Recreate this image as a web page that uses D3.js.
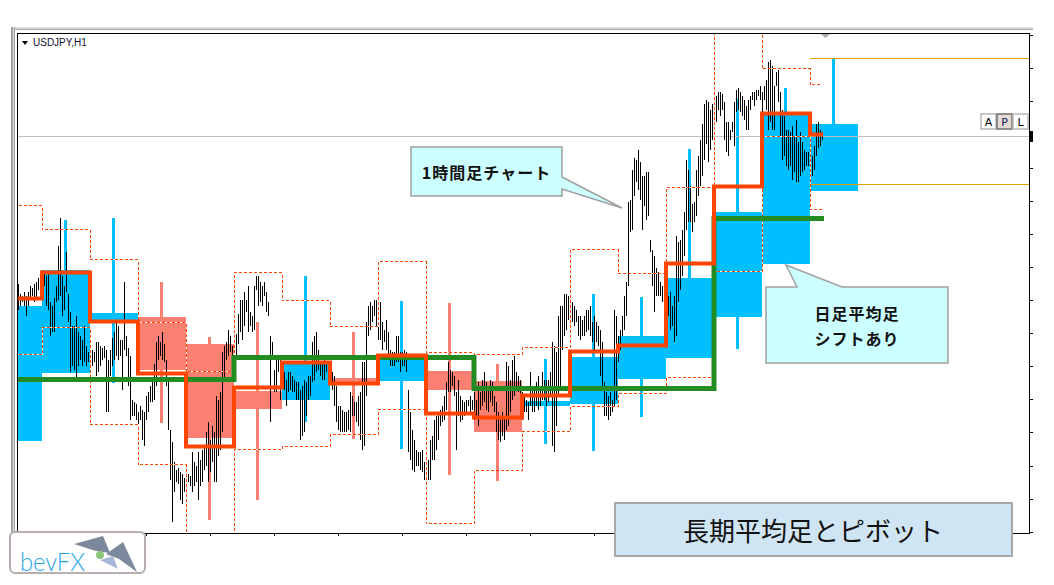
<!DOCTYPE html>
<html lang="ja">
<head>
<meta charset="utf-8">
<title>長期平均足とピボット</title>
<script src="https://d3js.org/d3.v7.min.js"></script>
<style>
  body { margin: 0; background: #fff; }
  svg { display: block; }
</style>
</head>
<body>
<svg id="chart"></svg>
<script>
// USDJPY H1 bars (high / low), first bar is hour -12, 24 bars per day
var hourHigh = [
  112.08,112.03,112.02,112.04,112.02,112.04,112.07,112.06,112.08,112.09,112.11,112.13,
  112.15,112.14,112.12,112.14,111.99,111.97,112.01,112.07,112.27,112.41,112.12,112.07,112.24,112.03,111.94,111.87,111.87,111.92,111.84,111.82,111.80,111.87,111.77,111.74,
  111.74,111.75,111.74,111.79,111.79,111.77,111.76,111.77,111.75,111.70,111.75,111.81,111.84,111.89,111.87,111.80,111.80,112.09,111.82,111.76,111.72,111.50,111.49,111.48,
  111.44,111.47,111.45,111.44,111.52,111.54,111.57,111.60,111.68,111.79,111.82,111.79,111.84,111.78,111.70,111.60,111.35,111.29,111.19,111.15,111.16,111.14,111.13,111.11,
  111.15,111.13,111.12,111.24,111.19,111.17,111.24,111.20,111.25,111.27,111.34,111.39,111.30,111.37,111.34,111.52,111.50,111.54,111.74,111.77,111.79,111.85,111.82,111.77,
  111.80,111.83,111.93,112.00,112.00,112.04,112.00,112.07,111.94,111.92,112.07,112.12,112.12,112.09,112.07,112.09,112.04,111.99,111.82,111.79,111.65,111.72,111.72,111.70,
  111.67,111.64,111.60,111.64,111.64,111.62,111.60,111.59,111.59,111.55,111.57,111.60,111.59,111.62,111.62,111.79,111.82,111.84,111.75,111.69,111.69,111.72,111.69,111.67,
  111.67,111.64,111.62,111.57,111.47,111.47,111.45,111.44,111.44,111.45,111.54,111.52,111.49,111.49,111.52,111.54,111.69,111.69,111.89,111.97,111.99,111.97,112.00,112.00,
  111.97,111.99,111.89,111.85,111.90,111.84,111.75,111.74,111.74,111.82,111.82,111.74,111.74,111.75,111.74,111.55,111.44,111.35,111.30,111.25,111.24,111.24,111.25,111.19,
  111.22,111.20,111.30,111.32,111.40,111.42,111.44,111.45,111.47,111.52,111.59,111.69,111.65,111.64,111.62,111.54,111.60,111.52,111.50,111.49,111.50,111.50,111.52,111.50,
  111.54,111.50,111.59,111.54,111.60,111.64,111.59,111.57,111.60,111.59,111.52,111.49,111.44,111.40,111.44,111.42,111.69,111.67,111.60,111.70,111.72,111.64,111.62,111.60,
  111.54,111.52,111.50,111.49,111.64,111.55,111.55,111.59,111.62,111.57,111.64,111.60,111.60,111.60,111.64,111.79,111.77,111.74,111.92,111.97,111.97,112.03,112.03,112.02,
  112.00,111.99,111.97,111.95,111.92,111.92,111.90,111.92,111.95,111.95,111.97,111.89,111.92,111.89,111.87,111.85,111.79,111.59,111.54,111.52,111.54,111.50,111.95,111.92,
  111.82,111.85,111.92,112.02,112.09,112.49,112.50,112.65,112.71,112.70,112.75,112.69,112.62,112.62,112.64,112.64,112.30,112.25,112.22,112.16,112.14,112.09,112.07,112.07,
  112.05,112.02,112.04,111.97,112.02,112.32,112.29,112.30,112.35,112.44,112.70,112.65,112.57,112.48,112.49,112.65,112.72,112.80,112.88,112.98,113.00,112.99,112.95,112.98,
  113.00,113.02,113.04,113.04,113.03,112.99,112.89,112.89,112.85,112.89,112.99,113.05,113.06,113.04,113.02,113.00,112.97,113.00,113.02,113.04,113.04,113.05,113.05,113.07,
  113.04,113.07,113.10,113.19,113.20,113.17,113.07,113.14,113.15,113.04,112.95,112.92,112.85,112.85,112.84,112.87,112.82,112.90,112.79,112.84,112.79,112.75,112.74,112.74,
  112.74,112.72,112.77,112.88,112.89,112.85,112.84
];
var hourLow = [
  111.95,111.97,111.99,111.97,111.92,111.97,112.00,112.02,111.99,112.00,112.05,112.04,
  112.02,112.07,111.97,111.95,111.82,111.84,111.84,111.99,112.00,112.02,111.92,111.95,112.04,111.89,111.64,111.67,111.65,111.59,111.67,111.70,111.67,111.69,111.67,111.69,
  111.70,111.67,111.69,111.62,111.64,111.67,111.70,111.71,111.44,111.44,111.62,111.67,111.70,111.72,111.70,111.72,111.55,111.75,111.72,111.57,111.40,111.42,111.42,111.40,
  111.37,111.40,111.30,111.27,111.40,111.44,111.49,111.49,111.50,111.57,111.70,111.72,111.70,111.69,111.57,111.35,111.10,110.89,111.04,111.09,111.08,111.00,110.98,111.04,
  111.07,111.09,111.07,111.04,111.07,111.09,111.00,111.07,111.09,111.15,111.17,111.09,111.14,111.19,111.09,111.09,111.22,111.25,111.34,111.60,111.70,111.72,111.74,111.70,
  111.65,111.70,111.78,111.84,111.80,111.87,111.94,111.84,111.87,111.84,111.85,112.05,111.97,111.99,111.97,112.02,111.94,111.92,111.39,111.72,111.54,111.54,111.64,111.50,
  111.57,111.55,111.47,111.54,111.55,111.54,111.54,111.50,111.50,111.30,111.32,111.34,111.42,111.50,111.52,111.59,111.60,111.64,111.65,111.62,111.60,111.60,111.64,111.60,
  111.60,111.55,111.47,111.39,111.35,111.34,111.34,111.34,111.34,111.35,111.34,111.42,111.42,111.39,111.37,111.30,111.25,111.27,111.52,111.82,111.85,111.89,111.92,111.87,
  111.80,111.80,111.75,111.79,111.75,111.72,111.67,111.67,111.67,111.69,111.69,111.64,111.67,111.67,111.64,111.24,111.20,111.15,111.14,111.17,111.17,111.15,111.14,111.10,
  111.12,111.10,111.10,111.20,111.20,111.25,111.30,111.37,111.39,111.40,111.45,111.54,111.54,111.57,111.52,111.25,111.42,111.39,111.40,111.42,111.44,111.47,111.44,111.45,
  111.40,111.42,111.37,111.45,111.47,111.49,111.45,111.44,111.49,111.47,111.44,111.34,111.30,111.29,111.32,111.30,111.35,111.37,111.44,111.50,111.52,111.55,111.54,111.52,
  111.40,111.44,111.44,111.40,111.47,111.44,111.44,111.47,111.45,111.47,111.50,111.50,111.47,111.49,111.52,111.27,111.24,111.37,111.52,111.57,111.75,111.82,111.85,111.90,
  111.89,111.89,111.87,111.89,111.82,111.80,111.82,111.82,111.84,111.85,111.82,111.79,111.75,111.79,111.77,111.62,111.57,111.42,111.42,111.40,111.42,111.44,111.47,111.50,
  111.69,111.75,111.82,111.85,111.92,112.07,112.34,112.35,112.52,112.59,112.55,112.50,112.35,112.47,112.40,112.42,112.24,112.07,111.94,112.02,112.02,112.02,111.99,112.02,
  111.99,111.92,111.85,111.87,111.79,111.82,111.99,112.05,112.12,112.22,112.35,112.39,112.39,112.34,112.39,112.42,112.52,112.57,112.62,112.70,112.78,112.69,112.75,112.80,
  112.92,112.89,112.95,112.92,112.95,112.80,112.74,112.72,112.80,112.84,112.77,112.94,112.95,112.94,112.92,112.90,112.85,112.85,112.95,113.00,112.97,113.00,113.02,113.00,
  112.94,113.00,112.95,112.85,112.89,112.85,112.85,113.07,112.99,112.82,112.70,112.72,112.67,112.65,112.67,112.60,112.64,112.59,112.59,112.62,112.64,112.65,112.67,112.67,
  112.67,112.62,112.65,112.72,112.76,112.77,112.80
];
var firstHour = -12;

// daily values, one per day (day -1 .. 16)
var days    = [-1, 0, 1, 2, 3, 4, 5, 6, 7, 8, 9, 10, 11, 12, 13, 14, 15, 16];
var haOpen  = [111.295, 111.635, 111.90, 111.915, 111.78, 111.545, 111.50, 111.61, 111.595, 111.645, 111.595, 111.47, 111.48, 111.605, 111.71, 111.915, 112.18, 112.545];
var haClose = [111.97, 112.15, 111.935, 111.65, 111.31, 111.455, 111.685, 111.58, 111.70, 111.55, 111.34, 111.495, 111.715, 111.82, 112.11, 112.44, 112.925, 112.88];
var haHigh  = [111.97, 112.40, 112.41, 112.09, 111.815, 111.89, 112.12, 111.84, 111.995, 111.985, 111.68, 111.705, 112.03, 112.015, 112.755, 113.005, 113.06, 113.21];
var haLow   = [111.295, 111.635, 111.585, 111.385, 110.90, 111.00, 111.39, 111.305, 111.255, 111.125, 111.095, 111.28, 111.245, 111.415, 111.71, 111.755, 112.18, 112.545];
var pivot   = [112.01, 112.14, 111.895, 111.635, 111.27, 111.565, 111.69, 111.585, 111.725, 111.435, 111.415, 111.525, 111.745, 111.775, 112.185, 112.57, 112.935, 112.83];
var upper   = [112.475, 112.355, 112.205, 111.89, 111.645, 112.14, 112.00, 111.87, 112.195, 111.74, 111.73, 111.765, 112.255, 112.135, 112.565, 113.36, 113.16, 113.08];
var lower   = [111.73, 111.865, 111.38, 111.18, 110.775, 111.255, 111.27, 111.33, 111.455, 110.885, 111.15, 111.345, 111.47, 111.535, 111.615, 112.145, 112.82, 112.455];
var longAvg = [111.605, 111.605, 111.605, 111.605, 111.605, 111.715, 111.715, 111.715, 111.715, 111.715, 111.56, 111.56, 111.56, 111.56, 111.56, 112.41, 112.41, 112.41];

var todayLevels = [113.21, 112.58];
var bid = 112.82;
var lastHour = 390.5;

var yTicks = [113.325, 113.16, 112.995, 112.825, 112.66, 112.495, 112.33, 112.165, 112.00, 111.835, 111.67, 111.505, 111.34, 111.17, 111.005, 110.84];
var xTicks = [52, 84, 116, 148, 180, 212, 244, 276, 308, 340, 372, 404, 436, 468];

var width = 1054, height = 585;
var svg = d3.select("#chart").attr("width", width).attr("height", height);

var x = d3.scaleLinear().domain([-12.5, 493.5]).range([17, 1029]);
var y = d3.scaleLinear().domain([110.84, 113.34]).range([532, 32]);

// window chrome
svg.append("rect").attr("x", 11).attr("y", 27).attr("width", 1022).attr("height", 2).attr("fill", "#dadada");
svg.append("rect").attr("x", 11).attr("y", 29).attr("width", 1022).attr("height", 1).attr("fill", "#a8a8a8");
svg.append("rect").attr("x", 11).attr("y", 27).attr("width", 4).attr("height", 506).attr("fill", "#a4a4a4");
svg.append("rect").attr("x", 13).attr("y", 27).attr("width", 1).attr("height", 506).attr("fill", "#d6d6d6");

svg.append("defs").append("clipPath").attr("id", "plot")
  .append("rect").attr("x", 18).attr("y", 34).attr("width", 1011).attr("height", 499);

var plot = svg.append("g").attr("clip-path", "url(#plot)");

var daily = days.map(function (d, i) {
  return { d: d, o: haOpen[i], c: haClose[i], h: haHigh[i], l: haLow[i] };
});
var colour = function (d) { return d.c >= d.o ? "#00bfff" : "#fa8072"; };

// daily heikin ashi wicks and bodies
plot.append("g").selectAll("rect").data(daily).enter().append("rect")
  .attr("x", function (d) { return x(24 * d.d + 11); })
  .attr("width", 3)
  .attr("y", function (d) { return y(d.h); })
  .attr("height", function (d) { return y(d.l) - y(d.h); })
  .attr("fill", colour);
plot.append("g").selectAll("rect").data(daily).enter().append("rect")
  .attr("x", function (d) { return x(24 * d.d); })
  .attr("width", function (d) { return x(24 * d.d + 24) - x(24 * d.d); })
  .attr("y", function (d) { return y(Math.max(d.o, d.c)); })
  .attr("height", function (d) { return Math.max(1, Math.abs(y(d.o) - y(d.c))); })
  .attr("fill", colour);

// bid line and today's levels
plot.append("line").attr("x1", 17).attr("x2", 1029)
  .attr("y1", Math.round(y(bid)) + 0.5).attr("y2", Math.round(y(bid)) + 0.5)
  .attr("stroke", "#c0c0c0");
plot.append("g").selectAll("line").data(todayLevels).enter().append("line")
  .attr("x1", x(384)).attr("x2", 1029)
  .attr("y1", function (d) { return Math.round(y(d)) + 0.5; })
  .attr("y2", function (d) { return Math.round(y(d)) + 0.5; })
  .attr("stroke", "#e8a000");

// hourly bars
var n = Math.min(hourHigh.length, hourLow.length);
var hours = d3.range(n).map(function (i) {
  return { h: firstHour + i, hi: Math.max(hourHigh[i], hourLow[i]), lo: Math.min(hourHigh[i], hourLow[i]) };
});
plot.append("g").attr("shape-rendering", "crispEdges").selectAll("rect").data(hours).enter().append("rect")
  .attr("x", function (d) { return Math.round(x(d.h)); })
  .attr("width", 1)
  .attr("y", function (d) { return Math.round(y(d.hi)); })
  .attr("height", function (d) { return Math.max(1, Math.round(y(d.lo)) - Math.round(y(d.hi))); })
  .attr("fill", "#000");

// step lines
function steps(values, end) {
  var pts = days.map(function (d, i) { return { h: 24 * d, v: values[i] }; });
  pts.push({ h: end, v: values[values.length - 1] });
  return pts;
}
var stepLine = d3.line()
  .x(function (d) { return x(d.h); })
  .y(function (d) { return Math.round(y(d.v)) + 0.5; })
  .curve(d3.curveStepAfter);

[upper, lower].forEach(function (band) {
  plot.append("path").datum(steps(band, 390)).attr("d", stepLine)
    .attr("fill", "none").attr("stroke", "#fff").attr("stroke-width", 1).attr("shape-rendering", "crispEdges");
  plot.append("path").datum(steps(band, 390)).attr("d", stepLine)
    .attr("fill", "none").attr("stroke", "#ff4500").attr("stroke-width", 1)
    .attr("stroke-dasharray", "3,2").attr("shape-rendering", "crispEdges");
});

plot.append("path").datum(steps(longAvg, lastHour + 0.5)).attr("d", stepLine)
  .attr("fill", "none").attr("stroke", "#228b22").attr("stroke-width", 5);
plot.append("path").datum(steps(pivot, lastHour)).attr("d", stepLine)
  .attr("fill", "none").attr("stroke", "#ff4500").attr("stroke-width", 4);

// frame and axes
svg.append("rect").attr("x", 17.5).attr("y", 33.5).attr("width", 1012).attr("height", 500)
  .attr("fill", "none").attr("stroke", "#000");
svg.append("g").attr("transform", "translate(1029,0)")
  .call(d3.axisRight(y).tickValues(yTicks).tickSize(4).tickFormat(""))
  .call(function (g) { g.select(".domain").remove(); g.selectAll("line").attr("stroke", "#000"); });
svg.append("g").attr("transform", "translate(0,533)")
  .call(d3.axisBottom(x).tickValues(xTicks).tickSize(3).tickFormat(""))
  .call(function (g) { g.select(".domain").remove(); g.selectAll("line").attr("stroke", "#000"); });
svg.append("rect").attr("x", 1030).attr("y", 131).attr("width", 3).attr("height", 11).attr("fill", "#000");

// symbol label and markers
svg.append("path").attr("d", "M22,41 L28,41 L25,45 Z").attr("fill", "#000");
svg.append("text").attr("x", 33).attr("y", 46)
  .attr("font-family", "Liberation Sans, Arial, sans-serif").attr("font-size", 10)
  .attr("fill", "#101030").text("USDJPY,H1");
svg.append("path").attr("d", "M821,34 L830,34 L825.5,38 Z").attr("fill", "#a8a8a8");

var buttons = ["A", "P", "L"];
var btn = svg.append("g").selectAll("g").data(buttons).enter().append("g")
  .attr("transform", function (d, i) { return "translate(" + (981 + i * 16) + ",114)"; });
btn.append("rect").attr("width", 15).attr("height", 15)
  .attr("fill", function (d) { return d === "P" ? "#e4dcd4" : "#fff"; })
  .attr("stroke", function (d) { return d === "P" ? "#707070" : "#b8b8b8"; }).attr("stroke-width", 1.5);
btn.append("text").attr("x", 7.5).attr("y", 12).attr("text-anchor", "middle")
  .attr("font-family", "DejaVu Sans, sans-serif").attr("font-size", 11)
  .attr("fill", function (d) { return d === "P" ? "#102060" : "#000"; }).text(function (d) { return d; });

// callouts
var jp = "Noto Sans CJK JP, sans-serif";
svg.append("path").attr("d", "M411,147 H562 V177 L622,208 L562,189 V196 H411 Z")
  .attr("fill", "#ccffff").attr("stroke", "#a0a0a0").attr("stroke-width", 1.5);
svg.append("text").attr("x", 486.5).attr("y", 179).attr("text-anchor", "middle")
  .attr("font-family", jp).attr("font-weight", "bold").attr("font-size", 16)
  .attr("letter-spacing", 1).attr("fill", "#111").text("1時間足チャート");

svg.append("path").attr("d", "M766,287 H797 L786,265 L842,287 H948 V363 H766 Z")
  .attr("fill", "#ccffff").attr("stroke", "#a0a0a0").attr("stroke-width", 1.5);
svg.append("text").attr("x", 857).attr("y", 320).attr("text-anchor", "middle")
  .attr("font-family", jp).attr("font-weight", "bold").attr("font-size", 16)
  .attr("letter-spacing", 1).attr("fill", "#111").text("日足平均足");
svg.append("text").attr("x", 857).attr("y", 345).attr("text-anchor", "middle")
  .attr("font-family", jp).attr("font-weight", "bold").attr("font-size", 16)
  .attr("letter-spacing", 1).attr("fill", "#111").text("シフトあり");

svg.append("rect").attr("x", 615).attr("y", 503).attr("width", 397).attr("height", 53)
  .attr("fill", "#cfe5f3").attr("stroke", "#a8a8a8").attr("stroke-width", 2);
svg.append("text").attr("x", 813).attr("y", 541).attr("text-anchor", "middle")
  .attr("font-family", jp).attr("font-size", 26).attr("fill", "#111").text("長期平均足とピボット");

// logo
var logo = svg.append("g");
logo.append("rect").attr("x", 10).attr("y", 532).attr("width", 135).attr("height", 41).attr("rx", 5)
  .attr("fill", "#fff").attr("stroke", "#b8aeae").attr("stroke-width", 2);
logo.append("text").attr("x", 20).attr("y", 571).attr("font-family", "Lato, sans-serif")
  .attr("font-weight", 300).attr("font-size", 25).attr("textLength", 65).attr("lengthAdjust", "spacingAndGlyphs")
  .attr("fill", "#1fa8e8").text("bevFX");
logo.append("path").attr("d", "M74,544 L103,536 L110,553 L96,551 Z").attr("fill", "#7c889c");
logo.append("path").attr("d", "M106,554 L123,542 L137,572 L119,559 Z").attr("fill", "#7c889c");
logo.append("path").attr("d", "M100,560 L113,556 L118,569 Z").attr("fill", "#a6b6d6");
logo.append("circle").attr("cx", 100).attr("cy", 555).attr("r", 4).attr("fill", "#8cc87a");
</script>
</body>
</html>
